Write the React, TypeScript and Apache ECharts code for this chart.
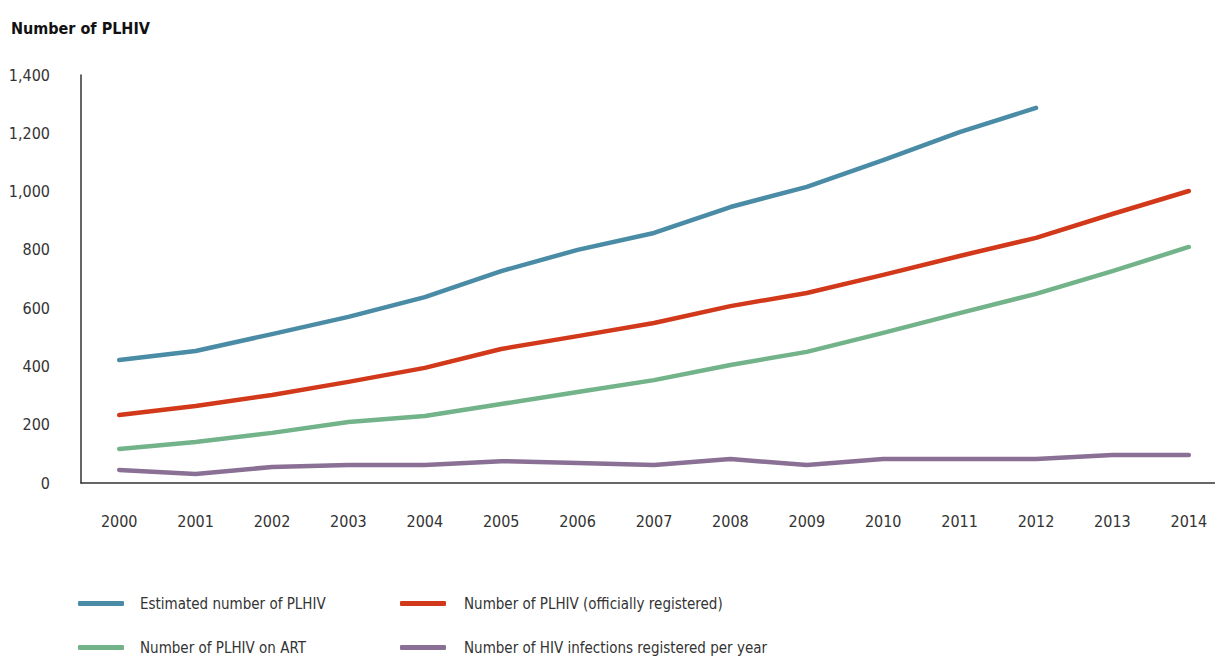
import React, { useEffect, useRef } from "react";
import * as echarts from "echarts";

const years = ["2000","2001","2002","2003","2004","2005","2006","2007","2008","2009","2010","2011","2012","2013","2014"];
const estimated = [422, 453, 511, 570, 638, 727, 800, 858, 947, 1016, 1108, 1204, 1287, null, null];
const registered = [233, 264, 302, 347, 395, 460, 504, 549, 607, 652, 714, 779, 841, 923, 1002];
const onArt = [117, 141, 172, 209, 230, 271, 312, 353, 405, 450, 515, 583, 649, 727, 810];
const newInfections = [45, 31, 55, 62, 62, 75, 69, 62, 82, 62, 82, 82, 82, 96, 96];

const names = [
  "Estimated number of PLHIV",
  "Number of PLHIV (officially registered)",
  "Number of PLHIV on ART",
  "Number of HIV infections registered per year",
];
const colors = ["#4A8CA6", "#D2391A", "#72B38A", "#8B7096"];

const FONT = "'Liberation Sans Narrow', 'DejaVu Sans Condensed', 'Roboto Condensed', sans-serif";

export default function App() {
  const ref = useRef<HTMLDivElement>(null);
  useEffect(() => {
    if (!ref.current) return;
    document.body.style.overflow = "hidden";
    const chart = echarts.init(ref.current, null, { renderer: "svg" });
    const mk = (i: number, data: (number | null)[]) => ({
      name: names[i],
      type: "line",
      data,
      showSymbol: false,
      symbol: "none",
      connectNulls: false,
      lineStyle: { width: 4.5, color: colors[i], cap: "round", join: "round" },
      itemStyle: { color: colors[i] },
    });
    const legendAt = (i: number, left: number, top: number, gap: number) => ({
      orient: "horizontal",
      icon: "roundRect",
      itemWidth: 46,
      itemHeight: 5,
      padding: 0,
      left,
      top,
      data: [names[i]],
      textStyle: { fontFamily: FONT, fontSize: 15, color: "#333", padding: [0, 0, 0, gap] },
    });
    chart.setOption({
      animation: false,
      textStyle: { fontFamily: FONT },
      title: {
        text: "Number of PLHIV",
        left: 6,
        top: 15,
        textStyle: { fontFamily: FONT, fontSize: 16, fontWeight: "bold", color: "#111" },
      },
      grid: { left: 81, right: 0, top: 75, bottom: 174, containLabel: false },
      legend: [
        legendAt(0, 78, 596, 11),
        legendAt(1, 400, 596, 13),
        legendAt(2, 78, 640, 11),
        legendAt(3, 400, 640, 13),
      ],
      xAxis: {
        type: "category",
        data: years,
        boundaryGap: true,
        axisLine: { show: true, lineStyle: { color: "#333", width: 1.5 } },
        axisTick: { show: false },
        axisLabel: { margin: 30, fontSize: 16, color: "#333", fontFamily: FONT },
        splitLine: { show: false },
      },
      yAxis: {
        type: "value",
        min: 0,
        max: 1400,
        interval: 200,
        axisLine: { show: true, lineStyle: { color: "#333", width: 1.5 } },
        axisTick: { show: false },
        splitLine: { show: false },
        axisLabel: {
          margin: 31,
          fontSize: 16,
          color: "#333",
          fontFamily: FONT,
          formatter: (v: number) => v.toLocaleString("en-US"),
        },
      },
      series: [
        mk(0, estimated),
        mk(1, registered),
        mk(2, onArt),
        mk(3, newInfections),
      ],
    });
    return () => chart.dispose();
  }, []);
  return (
    <div
      ref={ref}
      style={{ position: "fixed", left: 0, top: 0, width: 1227, height: 657, background: "#fff" }}
    />
  );
}
